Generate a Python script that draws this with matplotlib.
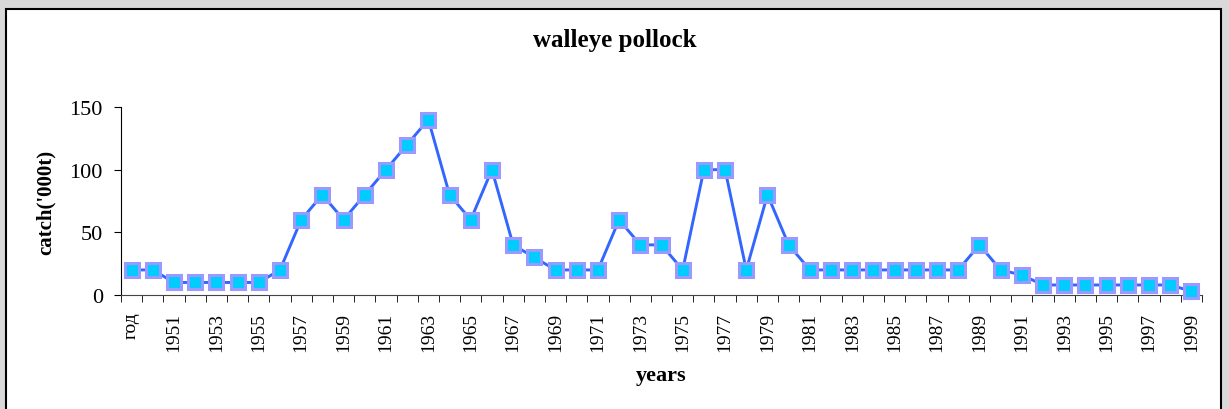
import matplotlib
matplotlib.use("Agg")
import matplotlib.pyplot as plt
from matplotlib.patches import Rectangle

YEARS = ["год"] + [str(y) for y in range(1950, 2000)]
CATCH = [20, 20, 10, 10, 10, 10, 10, 20, 60, 80,
         60, 80, 100, 120, 140, 80, 60, 100, 40, 30,
         20, 20, 20, 60, 40, 40, 20, 100, 100, 20,
         80, 40, 20, 20, 20, 20, 20, 20, 20, 20,
         40, 20, 16, 8, 8, 8, 8, 8, 8, 8,
         3]
Y_TICKS = [0, 50, 100, 150]

BG_COLOR   = "#d9d9d9"
LINE_COLOR = "#3366ff"
FACE_COLOR = "#00ccff"
EDGE_COLOR = "#9999ff"
FONT       = ["Liberation Serif", "DejaVu Serif"]

plt.rcParams["font.family"] = FONT

W, H = 1229, 410
fig = plt.figure(figsize=(W / 100, H / 100), dpi=100)
fig.patch.set_facecolor(BG_COLOR)

# white chart panel with black frame, behind everything
fig.patches.append(Rectangle((6 / W, -0.1), (1221 - 6) / W, (H - 10) / H + 0.1,
                             transform=fig.transFigure, facecolor="white",
                             edgecolor="black", linewidth=1.5, zorder=-10))

left, right = 121 / W, 1202 / W
bottom, top = 1 - 296 / H, 1 - 108 / H
ax = fig.add_axes([left, bottom, right - left, top - bottom])
ax.set_facecolor("none")

xs = list(range(len(YEARS)))
ax.plot(xs, CATCH, color=LINE_COLOR, linewidth=2.1, marker="s",
        markersize=10, markerfacecolor=FACE_COLOR, markeredgecolor=EDGE_COLOR,
        markeredgewidth=2.2, clip_on=False, zorder=3)

ax.set_xlim(-0.5, len(YEARS) - 0.5)
ax.set_ylim(0, 150)
ax.set_yticks(Y_TICKS)
ax.set_yticklabels([str(v) for v in Y_TICKS], fontsize=16)

ax.set_xticks(xs[::2])
ax.set_xticklabels(YEARS[::2], rotation=90, fontsize=14)
ax.set_xticks([i - 0.5 for i in range(len(YEARS) + 1)], minor=True)
ax.tick_params(axis="x", which="major", length=0, pad=12)
ax.tick_params(axis="x", which="minor", length=5, direction="out")
ax.tick_params(axis="y", length=5, direction="out", pad=8)

for side in ("top", "right"):
    ax.spines[side].set_visible(False)
ax.spines["bottom"].set_color("#444444")

ax.set_ylabel("catch('000t)", fontsize=15, fontweight="bold")
ax.yaxis.set_label_coords((56 - 121) / (1202 - 121), 0.5)
ax.set_xlabel("years", fontsize=16, fontweight="bold")
ax.xaxis.set_label_coords(0.5, (296 - 366) / (296 - 108))

fig.text(615 / W, 1 - 41 / H, "walleye pollock", ha="center", va="center",
         fontsize=18, fontweight="bold")

fig.savefig("out.png", dpi=100, facecolor=fig.get_facecolor())
